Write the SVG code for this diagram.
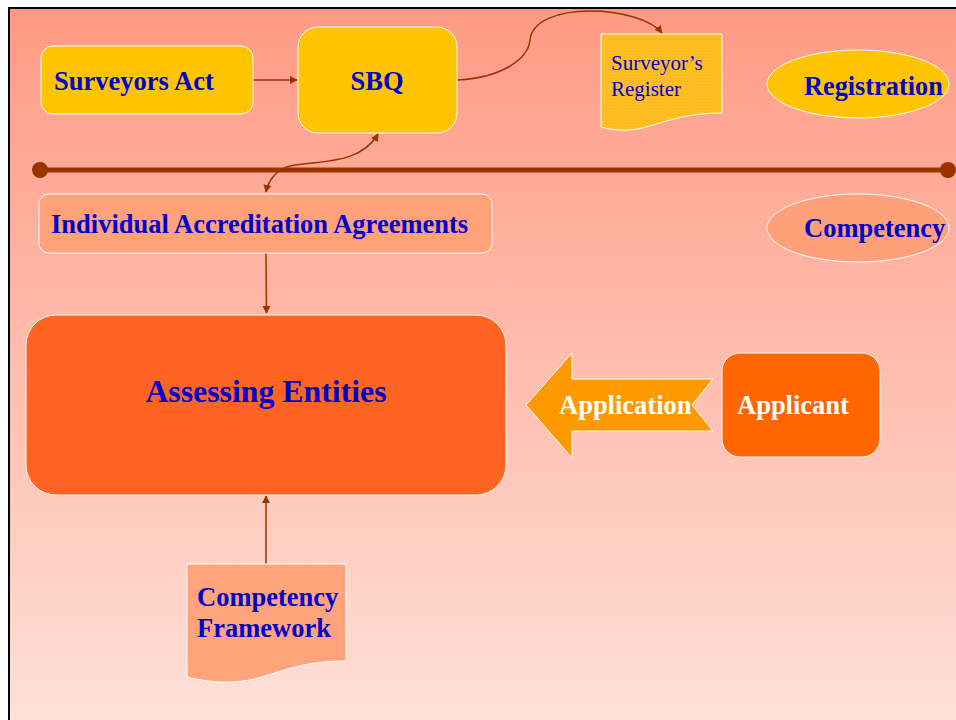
<svg xmlns="http://www.w3.org/2000/svg" width="956" height="720" viewBox="0 0 956 720">
<defs>
<linearGradient id="bg" x1="0" y1="0" x2="0" y2="1">
<stop offset="0" stop-color="#FF9A84"/>
<stop offset="1" stop-color="#FFE0D8"/>
</linearGradient>
<pattern id="grid" width="3" height="3" patternUnits="userSpaceOnUse">
<rect width="3" height="3" fill="#FFA47C"/>
<rect width="1" height="1" fill="#FF9E78"/>
</pattern>
<pattern id="grid2" width="3" height="3" patternUnits="userSpaceOnUse">
<rect width="3" height="3" fill="#FDBE24"/>
<rect width="1" height="1" fill="#F8B420"/>
</pattern>
<marker id="ah" viewBox="0 0 10 10" refX="9" refY="5" markerWidth="8" markerHeight="8" orient="auto-start-reverse" markerUnits="userSpaceOnUse">
<path d="M0,0 L10,5 L0,10 Z" fill="#993300"/>
</marker>
<style>
.node{stroke:#FFFFFF;stroke-width:1}
.bt{font-family:"Liberation Serif","Times New Roman",serif;font-weight:bold;fill:#0000CC}
.wt{font-family:"Liberation Serif","Times New Roman",serif;font-weight:bold;fill:#FFFFFF}
.nt{font-family:"Liberation Serif","Times New Roman",serif;fill:#0000CC}
.conn{fill:none;stroke:#993300;stroke-width:1.5}
</style>
</defs>
<rect x="0" y="0" width="956" height="720" fill="#FFFFFF"/>
<rect x="9" y="8" width="950" height="715" fill="url(#bg)" stroke="#000000" stroke-width="2"/>

<g id="timeline">
<line x1="40" y1="170" x2="948" y2="170" stroke="#993300" stroke-width="5"/>
<circle cx="40" cy="170" r="8" fill="#993300"/>
<circle cx="948" cy="170" r="8" fill="#993300"/>
</g>

<g id="connectors">
<line class="conn" x1="253" y1="80" x2="297" y2="80" marker-end="url(#ah)"/>
<path class="conn" d="M457,80 C500,78 528,60 530,40 C534,0 640,5 662,33" marker-end="url(#ah)"/>
<path class="conn" d="M378,134 C360,165 320,160 290,166 C275,170 268,182 266,192" marker-start="url(#ah)" marker-end="url(#ah)"/>
<line class="conn" x1="266" y1="253" x2="266.5" y2="313" marker-end="url(#ah)"/>
<line class="conn" x1="266" y1="564" x2="266" y2="496" marker-end="url(#ah)"/>
</g>

<g id="surveyors-act">
<rect class="node" x="41" y="46" width="212" height="68" rx="12" fill="#FFC400"/>
<text class="bt" x="54" y="90" font-size="26.5">Surveyors Act</text>
</g>

<g id="sbq">
<rect class="node" x="298" y="27" width="159" height="106" rx="20" fill="#FFC400"/>
<text class="bt" x="377" y="90" font-size="26.5" text-anchor="middle">SBQ</text>
</g>

<g id="surveyors-register">
<path class="node" d="M601,34 H722 V113 C690,113 670,120 650,126 C630,132 615,131 601,127 Z" fill="url(#grid2)"/>
<text class="nt" x="611" y="70" font-size="21">Surveyor’s</text>
<text class="nt" x="611" y="96" font-size="21">Register</text>
</g>

<g id="registration">
<ellipse class="node" cx="858" cy="84" rx="91" ry="34" fill="#FFC400"/>
<text class="bt" x="804" y="95" font-size="26.3">Registration</text>
</g>

<g id="competency">
<ellipse class="node" cx="858" cy="228" rx="91" ry="34" fill="#FFA07A"/>
<text class="bt" x="804" y="237" font-size="26.5">Competency</text>
</g>

<g id="iaa">
<rect class="node" x="39" y="194" width="453" height="59" rx="10" fill="#FFA27A"/>
<text class="bt" x="51" y="233" font-size="26.5">Individual Accreditation Agreements</text>
</g>

<g id="assessing-entities">
<rect class="node" x="26" y="315" width="480" height="180" rx="30" fill="#FF6422"/>
<text class="bt" x="266" y="402" font-size="31.8" text-anchor="middle">Assessing Entities</text>
</g>

<g id="application">
<path class="node" d="M526,405 L572,353 V379 H713 L692,405 L713,431 H572 V458 Z" fill="#FF9900"/>
<text class="wt" x="559" y="414" font-size="26.5">Application</text>
</g>

<g id="applicant">
<rect class="node" x="722" y="353" width="158" height="104" rx="18" fill="#FF6600"/>
<text class="wt" x="737" y="414" font-size="26.5">Applicant</text>
</g>

<g id="competency-framework">
<path class="node" d="M187,564 H346 V661 C310,661 290,668 265,676 C240,684 215,684 187,677 Z" fill="url(#grid)"/>
<text class="bt" x="197" y="606" font-size="26.5">Competency</text>
<text class="bt" x="197" y="637" font-size="26.5">Framework</text>
</g>
</svg>
